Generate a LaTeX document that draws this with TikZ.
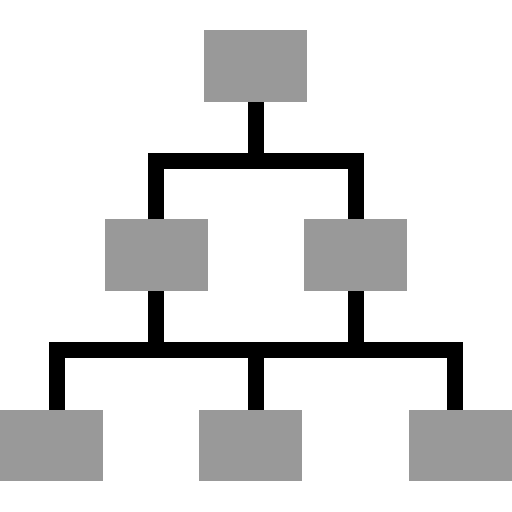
\documentclass[tikz,border=0pt]{standalone}
\definecolor{boxgray}{RGB}{153,153,153}
\begin{document}
\begin{tikzpicture}[x=1pt,y=-1pt,
  box/.style={rectangle,fill=boxgray,draw=none,inner sep=0pt,minimum width=103pt,minimum height=71.5pt},
  conn/.style={draw=black,line width=16pt,line join=miter,line cap=butt}]
\useasboundingbox (0,0) rectangle (512,512);
\node[box,minimum height=72pt] (top) at (255.5,66) {};
\node[box] (ml) at (156.5,255.2) {};
\node[box] (mr) at (355.5,255.2) {};
\node[box] (bl) at (51.7,445.7) {};
\node[box] (bm) at (250,445.7) {};
\node[box] (br) at (460.5,445.7) {};
\coordinate (t1) at (156.3,161.2);
\coordinate (t2) at (355.5,161.2);
\coordinate (tc) at (256,161.2);
\coordinate (j1) at (56.8,349.5);
\coordinate (j2) at (455.2,349.5);
\coordinate (jc) at (256,349.5);
% upper level
\draw[conn] (top.south -| tc) -- (tc);
\draw[conn] (ml.north -| t1) -- (t1) -- (t2) -- (mr.north -| t2);
% lower level
\draw[conn] (ml.south -| t1) -- (t1 |- j1);
\draw[conn] (mr.south -| t2) -- (t2 |- j2);
\draw[conn] (bl.north -| j1) -- (j1) -- (j2) -- (br.north -| j2);
\draw[conn] (jc) -- (bm.north -| jc);
\end{tikzpicture}
\end{document}
